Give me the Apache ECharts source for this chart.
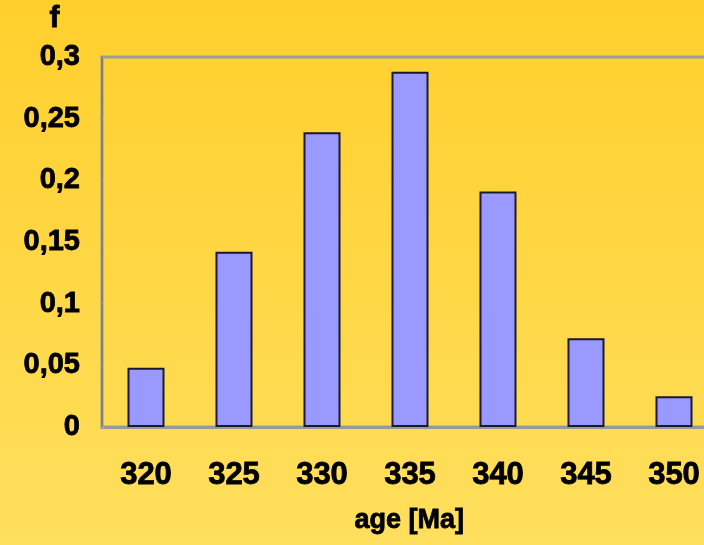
<!DOCTYPE html>
<html>
<head>
<meta charset="utf-8">
<script src="https://cdn.jsdelivr.net/npm/echarts@6/dist/echarts.min.js"></script>
<style>
html,body{margin:0;padding:0;overflow:hidden;width:704px;height:545px;}
#c{width:720px;height:545px;}
</style>
</head>
<body>
<div id="c"></div>
<script>
const categories = ['320', '325', '330', '335', '340', '345', '350'];
const frequency = [0.048, 0.142, 0.239, 0.288, 0.191, 0.072, 0.025];
const yMin = 0, yMax = 0.3, yStep = 0.05;
const xTitle = 'age [Ma]';
const yTitle = 'f';

const chart = echarts.init(document.getElementById('c'));
chart.setOption({
  backgroundColor: new echarts.graphic.LinearGradient(0, 0, 0, 1, [
    {offset: 0, color: '#FFCF2C'},
    {offset: 1, color: '#FFDF5E'}
  ]),
  animation: false,
  grid: {left: 102, top: 57, width: 616, bottom: 118, show: true,
         borderColor: '#9C9C9C', borderWidth: 3, backgroundColor: 'transparent'},
  xAxis: {
    type: 'category', data: categories,
    axisLine: {lineStyle: {color: '#999999', width: 3}},
    axisTick: {show: false},
    axisLabel: {color: '#000', fontFamily: 'Liberation Sans, Arial', fontWeight: 'bold', fontSize: 31, margin: 33,
      textBorderColor: '#000', textBorderWidth: 0.8}
  },
  yAxis: {
    type: 'value', min: yMin, max: yMax, interval: yStep,
    splitLine: {show: false},
    axisLine: {show: true, lineStyle: {color: '#808080', width: 2}},
    axisTick: {show: true, inside: true, length: 2, lineStyle: {color: '#aab'}},
    axisLabel: {color: '#000', fontFamily: 'Liberation Sans, Arial', fontWeight: 'bold', fontSize: 29, margin: 22,
      textBorderColor: '#000', textBorderWidth: 0.8,
      formatter: v => String(Math.round(v * 100) / 100).replace('.', ',')}
  },
  series: [{
    type: 'bar', data: frequency, barWidth: 37,
    itemStyle: {color: '#9999FF', borderColor: '#1a1a2a', borderWidth: 2}
  }],
  graphic: [
    {type: 'text', left: 49, top: 3, style: {text: yTitle, fill: '#000', stroke: '#000', lineWidth: 0.8, font: 'bold 30px "Liberation Sans", Arial'}},
    {type: 'text', left: 354, top: 507, style: {text: xTitle, fill: '#000', stroke: '#000', lineWidth: 0.8, font: 'bold 27px "Liberation Sans", Arial'}}
  ]
});
</script>
</body>
</html>
